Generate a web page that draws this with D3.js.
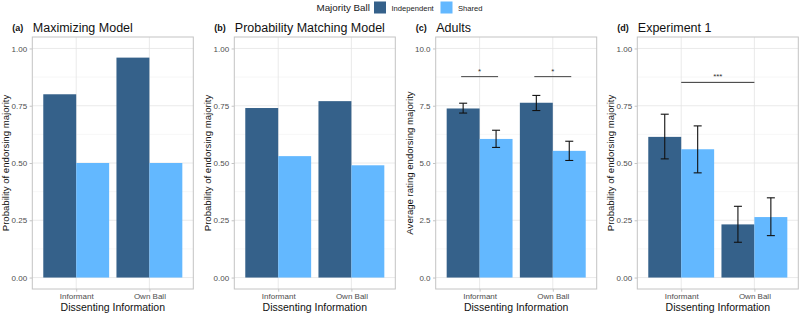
<!DOCTYPE html>
<html>
<head>
<meta charset="utf-8">
<script src="https://d3js.org/d3.v7.min.js"></script>
<style>
  body { margin: 0; background: #fff; }
  text { font-family: "Liberation Sans", Arial, sans-serif; }
</style>
</head>
<body>
<script>
// categories and series
var categories = ["Informant", "Own Ball"];
var series = ["Independent", "Shared"];
var seriesColors = ["#35618a", "#63b8ff"];

// panel titles
var panelTags = ["(a)", "(b)", "(c)", "(d)"];
var panelTitles = ["Maximizing Model", "Probability Matching Model", "Adults", "Experiment 1"];
var yTitles = ["Probability of endorsing majority", "Probability of endorsing majority",
               "Average rating endorsing majority", "Probability of endorsing majority"];

// values: [Informant, Own Ball] per series
var maxIndep = [0.80, 0.96], maxShared = [0.50, 0.50];
var pmIndep = [0.74, 0.77], pmShared = [0.53, 0.49];
var adultIndep = [7.38, 7.63], adultShared = [6.05, 5.53];
var adultIndepLo = [7.18, 7.29], adultIndepHi = [7.61, 7.95];
var adultSharedLo = [5.68, 5.11], adultSharedHi = [6.43, 5.95];
var expIndep = [0.614, 0.232], expShared = [0.56, 0.264];
var expIndepLo = [0.518, 0.154], expIndepHi = [0.713, 0.311];
var expSharedLo = [0.457, 0.183], expSharedHi = [0.662, 0.348];

// y ticks
var probTicks = [0, 0.25, 0.5, 0.75, 1];
var probLabels = ["0.00", "0.25", "0.50", "0.75", "1.00"];
var ratingTicks = [0, 2.5, 5, 7.5, 10];
var ratingLabels = ["0.0", "2.5", "5.0", "7.5", "10.0"];

var panels = [
  {vals: [maxIndep, maxShared], max: 1, ticks: probTicks, labels: probLabels},
  {vals: [pmIndep, pmShared], max: 1, ticks: probTicks, labels: probLabels},
  {vals: [adultIndep, adultShared], max: 10, ticks: ratingTicks, labels: ratingLabels,
   lo: [adultIndepLo, adultSharedLo], hi: [adultIndepHi, adultSharedHi],
   sig: "within", sigY: 8.77},
  {vals: [expIndep, expShared], max: 1, ticks: probTicks, labels: probLabels,
   lo: [expIndepLo, expSharedLo], hi: [expIndepHi, expSharedHi],
   sig: "between", sigY: 0.852}
];

var W = 800, H = 314;
var svg = d3.select("body").append("svg").attr("width", W).attr("height", H);

var panelLefts = [32.3, 234.3, 435.7, 637.3];
var panelW = 161;
var panelTop = 37, panelBottom = 289;

// legend
var leg = svg.append("g");
leg.append("text").attr("x", 316.5).attr("y", 11).attr("font-size", 9.8).attr("fill", "#1a1a1a").text("Majority Ball");
var legKeys = [374, 440.5], legText = [391.5, 458];
series.forEach(function(s, i) {
  leg.append("rect").attr("x", legKeys[i]).attr("y", 1.5).attr("width", 12).attr("height", 12).attr("fill", seriesColors[i]);
  leg.append("text").attr("x", legText[i]).attr("y", 10.5).attr("font-size", 7.6).attr("fill", "#1a1a1a").text(s);
});

panels.forEach(function(p, pi) {
  var left = panelLefts[pi], right = left + panelW;
  var g = svg.append("g");

  var y = d3.scaleLinear().domain([-0.05 * p.max, 1.05 * p.max]).range([panelBottom, panelTop]);
  var x = d3.scalePoint().domain(categories).range([left, right]).padding(0.6);
  var step = x.step();
  var bw = step * 0.45;

  // minor grid
  var minor = d3.range(p.ticks.length - 1).map(function(i) { return (p.ticks[i] + p.ticks[i + 1]) / 2; });
  g.selectAll(".minor").data(minor).enter().append("line")
    .attr("x1", left).attr("x2", right)
    .attr("y1", function(d) { return y(d); }).attr("y2", function(d) { return y(d); })
    .attr("stroke", "#f2f2f2").attr("stroke-width", 0.6);
  // major grid
  g.selectAll(".major").data(p.ticks).enter().append("line")
    .attr("x1", left).attr("x2", right)
    .attr("y1", function(d) { return y(d); }).attr("y2", function(d) { return y(d); })
    .attr("stroke", "#e5e5e5").attr("stroke-width", 0.8);
  g.selectAll(".vgrid").data(categories).enter().append("line")
    .attr("x1", function(d) { return x(d); }).attr("x2", function(d) { return x(d); })
    .attr("y1", panelTop).attr("y2", panelBottom)
    .attr("stroke", "#e5e5e5").attr("stroke-width", 0.8);

  // bars
  series.forEach(function(s, si) {
    g.selectAll(".bar" + si).data(categories).enter().append("rect")
      .attr("x", function(d) { return x(d) - bw + si * bw; })
      .attr("width", bw)
      .attr("y", function(d, ci) { return y(p.vals[si][ci]); })
      .attr("height", function(d, ci) { return y(0) - y(p.vals[si][ci]); })
      .attr("fill", seriesColors[si]);
  });

  // error bars
  if (p.lo) {
    series.forEach(function(s, si) {
      categories.forEach(function(c, ci) {
        var cx = x(c) - bw / 2 + si * bw;
        var y1 = y(p.lo[si][ci]), y2 = y(p.hi[si][ci]);
        g.append("line").attr("x1", cx).attr("x2", cx).attr("y1", y1).attr("y2", y2)
          .attr("stroke", "#111").attr("stroke-width", 1.1);
        [y1, y2].forEach(function(yy) {
          g.append("line").attr("x1", cx - 4).attr("x2", cx + 4).attr("y1", yy).attr("y2", yy)
            .attr("stroke", "#111").attr("stroke-width", 1.1);
        });
      });
    });
  }

  // significance markers
  if (p.sig === "within") {
    categories.forEach(function(c) {
      var x1 = x(c) - bw / 2 - 2, x2 = x(c) + bw / 2 + 2;
      g.append("line").attr("x1", x1).attr("x2", x2).attr("y1", y(p.sigY)).attr("y2", y(p.sigY))
        .attr("stroke", "#444").attr("stroke-width", 1);
      g.append("text").attr("x", x(c)).attr("y", y(p.sigY) - 3).attr("text-anchor", "middle")
        .attr("font-size", 8).attr("fill", "#333").text("*");
    });
  } else if (p.sig === "between") {
    var xa = x(categories[0]), xb = x(categories[1]);
    g.append("line").attr("x1", xa).attr("x2", xb).attr("y1", y(p.sigY)).attr("y2", y(p.sigY))
      .attr("stroke", "#333").attr("stroke-width", 1);
    g.append("text").attr("x", (xa + xb) / 2).attr("y", y(p.sigY) - 3).attr("text-anchor", "middle")
      .attr("font-size", 8).attr("fill", "#333").text("***");
  }

  // panel border
  g.append("rect").attr("x", left).attr("y", panelTop).attr("width", panelW).attr("height", panelBottom - panelTop)
    .attr("fill", "none").attr("stroke", "#c4c4c4").attr("stroke-width", 1);

  // y axis
  var yAxis = g.append("g").attr("transform", "translate(" + left + ",0)")
    .call(d3.axisLeft(y).tickValues(p.ticks).tickSize(2.7).tickPadding(2.5)
      .tickFormat(function(d, i) { return p.labels[i]; }));
  yAxis.select(".domain").remove();
  yAxis.selectAll("line").attr("stroke", "#c4c4c4");
  yAxis.selectAll("text").attr("font-size", 8).attr("fill", "#4d4d4d").attr("font-family", "Liberation Sans, Arial, sans-serif");

  // x axis
  var xAxis = g.append("g").attr("transform", "translate(0," + panelBottom + ")")
    .call(d3.axisBottom(x).tickSize(2.7).tickPadding(2));
  xAxis.select(".domain").remove();
  xAxis.selectAll("line").attr("stroke", "#c4c4c4");
  xAxis.selectAll("text").attr("font-size", 8).attr("fill", "#4d4d4d").attr("font-family", "Liberation Sans, Arial, sans-serif");

  // axis titles
  g.append("text").attr("x", left + panelW / 2).attr("y", 311).attr("text-anchor", "middle")
    .attr("font-size", 10.5).attr("fill", "#111").text("Dissenting Information");
  g.append("text").attr("transform", "translate(" + (left - 23) + "," + ((panelTop + panelBottom) / 2) + ") rotate(-90)")
    .attr("text-anchor", "middle").attr("font-size", 9.6).attr("fill", "#111").text(yTitles[pi]);

  // panel title
  g.append("text").attr("x", left - 20).attr("y", 31).attr("font-size", 9).attr("font-weight", "bold")
    .attr("fill", "#111").text(panelTags[pi]);
  g.append("text").attr("x", left + 0.5).attr("y", 32).attr("font-size", 12.5).attr("fill", "#111").text(panelTitles[pi]);
});
</script>
</body>
</html>
